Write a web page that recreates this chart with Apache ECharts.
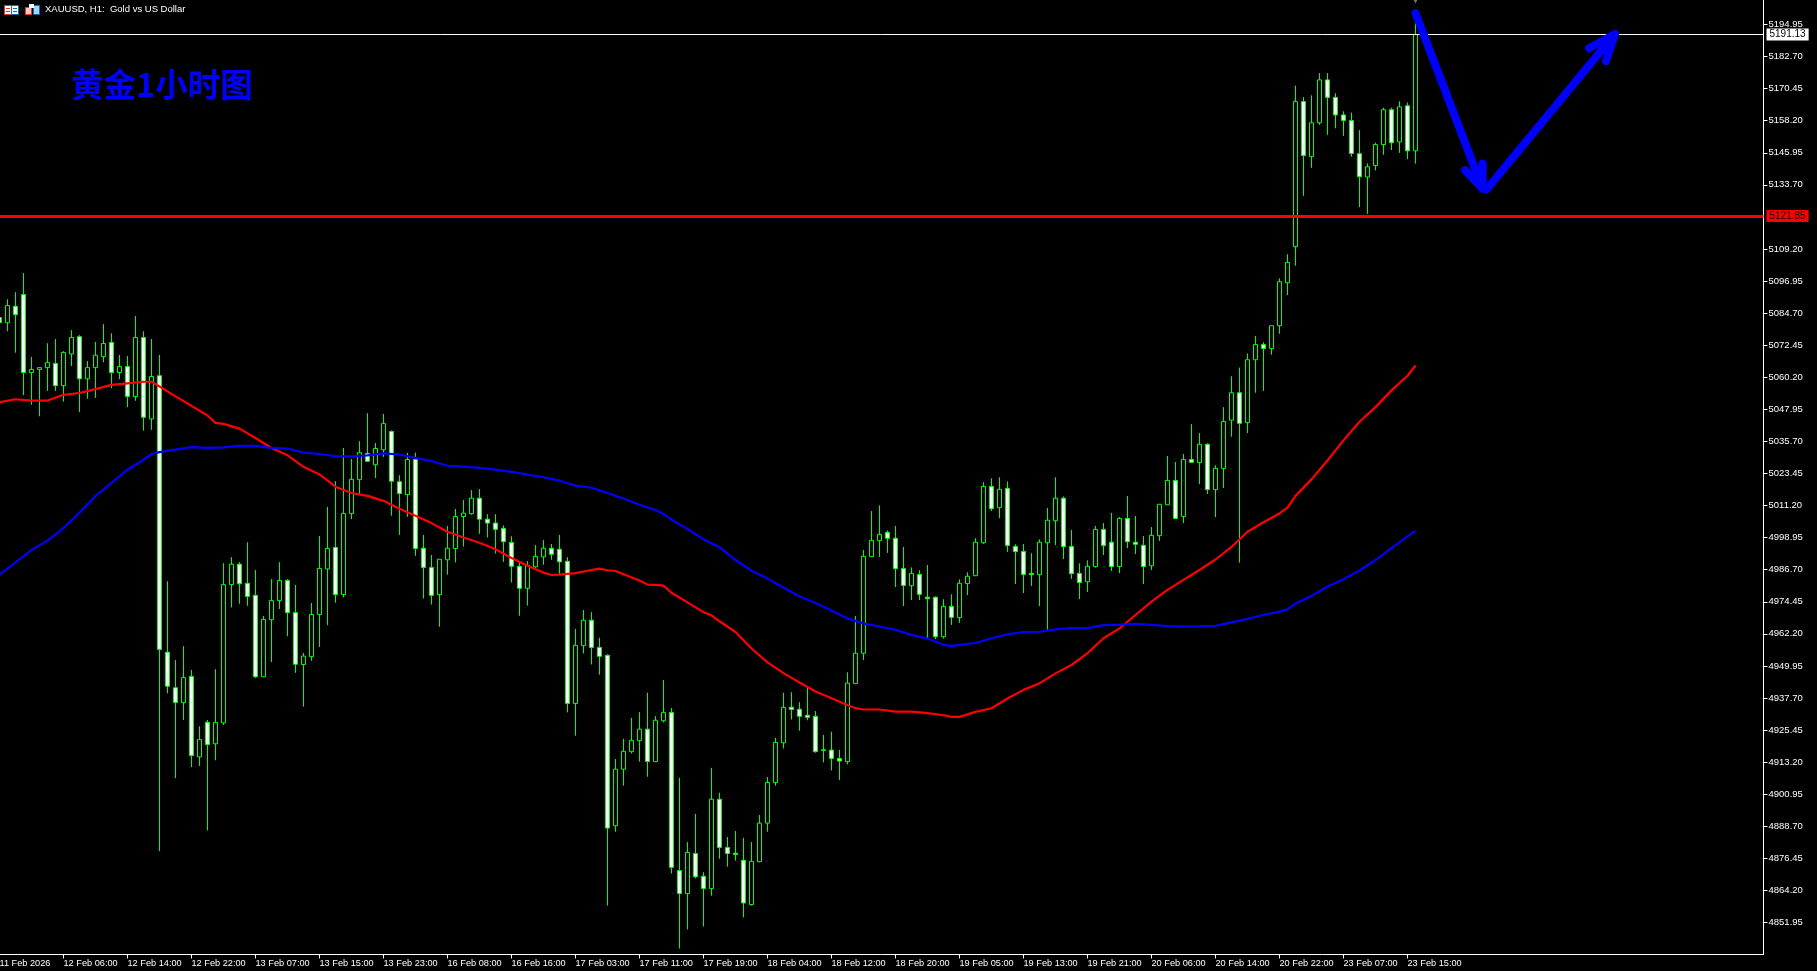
<!DOCTYPE html>
<html>
<head>
<meta charset="utf-8">
<title>XAUUSD H1</title>
<style>
  html, body { margin: 0; padding: 0; background: #000; }
  #chart { width: 1817px; height: 971px; }
</style>
<script src="https://cdn.jsdelivr.net/npm/echarts@6/dist/echarts.min.js"></script>
</head>
<body>
<div id="chart"></div>
<script>
const opens = [
  5083.0,5081.0,5087.3,5091.8,5062.0,5063.2,5063.9,5065.5,5057.0,5069.1,
  5075.7,5059.6,5063.9,5068.1,5073.5,5062.0,5064.3,5052.8,5075.4,5044.3,
  5060.8,4955.2,4941.6,4935.9,4945.9,4915.2,4928.4,4920.2,4928.2,4981.0,
  4988.8,4981.5,4976.9,4945.8,4967.6,4974.9,4982.6,4970.3,4950.5,4953.5,
  4969.6,4987.0,4995.2,4977.2,5008.2,5021.1,5031.1,5026.8,5032.5,5039.5,
  5020.3,5015.4,5028.8,4994.9,4987.5,4977.2,4990.5,4994.8,5007.0,5008.1,
  5014.0,5006.0,5004.5,5002.5,4997.1,4988.0,4979.6,4987.8,4991.6,4994.9,
  4994.5,4989.9,4935.6,4957.7,4967.4,4957.0,4954.0,4888.9,4910.5,4917.2,
  4921.4,4925.8,4913.4,4929.0,4932.2,4871.8,4863.0,4878.3,4869.6,4864.9,
  4899.0,4880.6,4878.4,4875.7,4858.8,4875.2,4889.9,4905.4,4920.6,4934.2,
  4933.4,4931.1,4930.7,4917.9,4917.8,4914.6,4913.4,4943.2,4954.8,4991.7,
  4997.8,5001.0,4998.7,4987.2,4980.6,4984.9,4976.2,4976.2,4961.1,4972.7,
  4968.4,4981.4,4984.4,4997.0,5018.5,5010.4,5017.8,4995.6,4993.7,4985.3,
  4984.8,4997.0,5005.4,5014.0,4995.6,4985.3,4982.1,4987.9,5002.1,4997.2,
  4987.9,5006.3,4997.2,4996.0,4988.2,4999.7,5011.5,5020.8,5007.0,5028.8,
  5027.6,5034.6,5017.3,5025.4,5043.8,5054.3,5042.9,5066.9,5072.7,5071.2,
  5079.9,5096.3,5110.1,5165.5,5144.5,5157.4,5173.8,5167.1,5160.4,5158.3,
  5145.6,5136.7,5141.1,5149.1,5162.4,5150.1,5163.9,5146.7
]
const closes = [
  5081.1,5087.6,5084.1,5062.0,5063.2,5063.9,5065.8,5057.0,5069.7,5075.4,
  5059.6,5063.9,5068.6,5073.1,5062.0,5064.3,5052.9,5075.4,5044.9,5060.5,
  4956.2,4942.2,4936.0,4945.5,4915.7,4921.8,4919.9,4928.4,4981.0,4988.8,
  4981.3,4976.5,4945.8,4967.7,4974.9,4982.6,4970.3,4950.6,4953.7,4969.6,
  4987.2,4994.8,4977.2,5008.2,5021.2,5031.4,5028.1,5033.0,5042.5,5020.5,
  5015.8,5028.8,4994.8,4987.5,4976.9,4990.7,4994.9,5007.0,5008.3,5014.0,
  5006.0,5004.5,5002.1,4997.4,4988.0,4979.6,4988.4,4991.8,4994.9,4992.6,
  4989.7,4935.6,4957.8,4967.4,4957.0,4953.6,4888.0,4910.5,4917.3,4921.5,
  4925.8,4913.4,4929.2,4932.2,4873.0,4863.0,4878.7,4869.4,4864.9,4899.0,
  4880.6,4878.3,4877.9,4859.4,4875.3,4889.9,4905.4,4920.7,4934.1,4933.3,
  4930.7,4930.3,4917.2,4917.7,4914.6,4913.6,4943.4,4954.8,4991.8,4997.9,
  5000.2,4998.7,4987.1,4980.7,4985.3,4977.3,4975.6,4961.1,4972.7,4968.5,
  4981.5,4984.2,4997.2,5018.5,5010.0,5017.4,4995.9,4993.6,4984.9,4984.8,
  4997.2,5005.6,5014.0,4995.5,4985.2,4981.8,4988.0,5002.1,4995.9,4987.9,
  5006.3,4997.4,4996.4,4987.9,4999.8,5011.7,5020.8,5006.3,5028.8,5027.7,
  5034.6,5017.3,5025.4,5043.3,5054.3,5042.6,5066.9,5072.7,5071.2,5079.9,
  5096.7,5104.1,5165.5,5144.9,5157.4,5173.8,5167.1,5160.4,5158.3,5145.7,
  5136.8,5140.6,5149.1,5162.4,5149.8,5163.5,5146.7,5191.13
]
const highs = [
  5086.0,5090.0,5092.7,5100.0,5068.0,5063.9,5073.2,5074.8,5070.2,5078.2,
  5076.3,5066.4,5073.7,5080.5,5077.0,5068.7,5068.3,5083.6,5077.8,5074.8,
  5068.7,4982.3,4952.2,4957.5,4948.4,4926.9,4929.3,4948.7,4989.2,4991.5,
  4989.6,4997.2,4986.6,4969.0,4983.1,4989.6,4983.1,4980.9,4954.9,4974.0,
  4999.6,5010.7,5020.5,5033.2,5029.0,5035.8,5046.5,5035.1,5046.2,5039.9,
  5022.8,5031.3,5031.4,5000.0,4992.3,4990.7,5003.4,5009.9,5013.3,5017.1,
  5017.5,5007.9,5007.9,5003.6,4999.5,4989.9,4990.0,4996.1,4998.0,4996.5,
  5000.0,4991.5,4964.1,4971.3,4970.5,4960.7,4954.4,4914.4,4922.1,4930.1,
  4932.3,4939.7,4930.8,4944.6,4933.9,4907.2,4882.7,4893.4,4871.2,4911.0,
  4901.5,4884.6,4886.9,4884.3,4882.7,4893.0,4907.5,4922.5,4939.7,4939.9,
  4936.1,4941.5,4932.7,4923.6,4924.8,4917.9,4947.5,4969.0,4994.2,5009.1,
  5011.3,5001.7,5003.4,4995.4,4987.6,4986.5,4988.5,4976.5,4975.4,4977.3,
  4983.0,4985.7,4998.7,5020.1,5021.6,5022.0,5020.4,4996.4,4996.5,4993.0,
  4998.3,5010.3,5022.0,5014.7,5001.9,4989.1,4990.3,5003.4,5004.5,5008.4,
  5006.8,5014.8,5007.2,4999.6,5003.0,5011.7,5030.1,5027.8,5030.9,5042.3,
  5038.9,5035.0,5026.6,5048.8,5060.6,5063.9,5069.3,5076.0,5073.6,5079.9,
  5098.0,5107.2,5171.6,5167.2,5167.9,5176.4,5176.4,5168.7,5161.8,5161.3,
  5154.6,5141.9,5149.8,5163.2,5163.2,5165.6,5165.1,5200.4
]
const lows = [
  5077.9,5077.8,5069.6,5053.4,5049.7,5045.3,5055.0,5055.0,5050.9,5064.5,
  5046.9,5052.0,5052.3,5065.9,5056.0,5059.5,5048.8,5051.2,5039.8,5040.1,
  4879.2,4939.5,4907.1,4929.3,4911.3,4911.7,4887.1,4913.9,4927.4,4972.3,
  4973.7,4972.9,4945.4,4945.7,4951.4,4971.7,4961.3,4947.3,4934.4,4951.9,
  4957.2,4965.5,4974.1,4976.1,5006.0,5015.5,5028.0,5021.7,5029.8,5007.3,
  5000.0,5006.9,4992.0,4975.7,4973.4,4964.9,4984.8,4989.5,4995.5,5007.7,
  5000.4,4999.0,4992.9,4989.7,4981.8,4969.1,4973.0,4987.4,4988.6,4990.5,
  4984.7,4932.2,4923.3,4954.7,4950.5,4946.6,4858.4,4886.6,4904.2,4916.5,
  4913.4,4907.6,4913.2,4928.4,4870.7,4842.0,4849.3,4868.8,4850.4,4862.2,
  4876.3,4873.3,4875.6,4853.9,4858.4,4874.9,4886.6,4904.2,4918.4,4929.5,
  4925.2,4929.2,4916.8,4913.1,4910.0,4906.4,4912.3,4943.0,4952.2,4991.6,
  4991.6,4993.1,4980.1,4972.8,4975.1,4975.1,4960.6,4960.2,4960.4,4965.6,
  4966.4,4977.0,4984.3,4996.6,5009.1,5006.4,4993.5,4981.2,4977.8,4980.5,
  4972.8,4963.7,4996.1,4990.8,4983.2,4975.5,4978.2,4987.5,4992.3,4986.2,
  4985.4,4995.0,4992.7,4981.2,4986.6,4997.7,5011.4,5006.2,5004.5,5027.6,
  5019.4,5015.6,5006.8,5017.9,5037.5,4989.4,5038.9,5054.3,5055.0,5068.8,
  5076.8,5091.6,5102.8,5129.5,5140.2,5156.6,5152.8,5155.3,5152.4,5144.5,
  5125.2,5122.6,5139.2,5145.2,5147.0,5145.9,5143.5,5141.8
]

// moving averages as [bar, price]
const redMa = [
  [0,5050.7],[2,5051.8],[4,5051.3],[6,5051.3],[8,5053.5],[10,5054.2],[12,5055.7],[14,5057.3],[16,5057.9],[18,5058.5],
  [19,5058.5],[20,5056.7],[22,5052.9],[24,5049.3],[26,5045.6],[27,5042.8],[28,5042.4],[30,5040.6],[32,5037.0],[34,5033.2],
  [36,5030.4],[38,5026.0],[40,5023.1],[42,5018.4],[44,5016.0],[46,5014.9],[48,5013.0],[50,5010.0],[52,5007.3],[54,5004.5],
  [56,5001.2],[58,4999.0],[60,4997.0],[62,4994.5],[64,4991.2],[66,4988.2],[68,4985.6],[69,4984.7],[70,4984.8],[72,4985.4],
  [74,4986.6],[75,4987.1],[76,4986.5],[77,4986.2],[78,4985.0],[80,4982.6],[81,4981.0],[82,4980.9],[83,4980.6],[84,4977.9],
  [86,4974.2],[88,4970.5],[89,4969.3],[90,4967.0],[92,4962.9],[94,4956.6],[96,4951.3],[98,4947.2],[100,4943.6],[102,4940.2],
  [104,4937.6],[106,4935.0],[107,4933.8],[108,4933.3],[110,4933.3],[112,4932.5],[114,4932.5],[116,4931.9],[118,4931.1],[119,4930.5],
  [120,4930.5],[122,4932.4],[124,4933.8],[126,4937.5],[128,4940.8],[130,4943.3],[132,4947.1],[134,4950.3],[136,4954.8],[138,4960.5],
  [140,4964.3],[142,4969.4],[144,4974.5],[146,4979.0],[148,4982.8],[150,4986.6],[152,4990.6],[154,4995.4],[156,5001.2],[158,5004.8],
  [160,5008.2],[161,5010.4],[162,5014.9],[164,5021.2],[166,5028.4],[168,5036.1],[170,5043.2],[172,5048.8],[174,5055.2],[176,5060.8],
  [177,5064.7]
]
const blueMa = [
  [0,4984.8],[2,4989.5],[4,4994.2],[6,4997.8],[8,5002.6],[10,5008.5],[12,5014.8],[14,5019.9],[16,5024.9],[18,5028.7],
  [19,5030.9],[20,5031.6],[22,5032.6],[24,5033.5],[26,5033.2],[28,5033.4],[30,5034.0],[32,5034.0],[34,5033.2],[36,5033.0],
  [38,5031.4],[40,5030.9],[42,5030.1],[44,5030.0],[46,5030.4],[48,5031.1],[50,5030.7],[52,5029.4],[54,5028.2],[56,5026.4],
  [58,5026.1],[60,5025.6],[62,5024.9],[64,5024.1],[66,5023.0],[68,5022.0],[70,5020.7],[72,5018.8],[74,5018.0],[76,5016.0],
  [78,5013.9],[80,5011.5],[82,5009.5],[83,5008.0],[84,5005.8],[86,5002.3],[88,4998.3],[90,4995.3],[92,4990.4],[94,4986.3],
  [96,4983.3],[98,4979.9],[100,4976.5],[102,4974.0],[104,4971.1],[106,4968.1],[108,4966.1],[110,4965.0],[112,4963.7],[114,4961.8],
  [116,4960.4],[118,4958.0],[119,4957.6],[120,4958.0],[122,4958.7],[124,4960.5],[126,4962.0],[128,4962.9],[130,4963.0],[132,4963.9],
  [134,4964.4],[136,4964.4],[138,4965.5],[140,4965.7],[142,4966.0],[144,4965.6],[146,4965.2],[148,4965.0],[150,4965.1],[152,4965.3],
  [154,4966.6],[156,4967.9],[158,4969.4],[160,4970.7],[161,4971.6],[162,4973.8],[164,4976.7],[166,4980.3],[168,4983.1],[170,4986.4],
  [172,4990.4],[174,4994.9],[176,4999.4],[177,5001.5]
]

// hand drawn arrows, [bar, price]
const arrowDown = [[177,5199.3],[185.4,5132.2],[185.4,5141.9],[185.4,5132.2],[183.2,5139.3]]
const arrowUp = [[185.9,5132.0],[201.94,5191.3],[198.7,5185.9],[201.94,5191.3],[200.8,5181.0]]
const lastBarMark = [[177,5204.3]]

const priceTicks = [
  5194.95,5182.70,5170.45,5158.20,5145.95,5133.70,5109.20,5096.95,5084.70,5072.45,
  5060.20,5047.95,5035.70,5023.45,5011.20,4998.95,4986.70,4974.45,4962.20,4949.95,
  4937.70,4925.45,4913.20,4900.95,4888.70,4876.45,4864.20,4851.95
]
const timeLabels = [
  '11 Feb 2026','12 Feb 06:00','12 Feb 14:00','12 Feb 22:00','13 Feb 07:00','13 Feb 15:00',
  '13 Feb 23:00','16 Feb 08:00','16 Feb 16:00','17 Feb 03:00','17 Feb 11:00','17 Feb 19:00',
  '18 Feb 04:00','18 Feb 12:00','18 Feb 20:00','19 Feb 05:00','19 Feb 13:00','19 Feb 21:00',
  '20 Feb 06:00','20 Feb 14:00','20 Feb 22:00','23 Feb 07:00','23 Feb 15:00'
]
const askPrice = 5191.13
const supportPrice = 5121.85

const LABEL_EVERY = 8
const SLOTS = 221
const FONT = '"Liberation Sans", Arial, sans-serif'

// one label every 8 bars, empty slots run on to the right of the last bar
const categories = []
for (let i = 0; i < SLOTS; i++) {
  categories.push(i % LABEL_EVERY === 0 && timeLabels[i / LABEL_EVERY] ? timeLabels[i / LABEL_EVERY] : '')
}
const isLabelled = i => categories[i] !== ''

function priceLine (value, color, width, textColor) {
  return {
    yAxis: value,
    lineStyle: { color: color, width: width, type: 'solid' },
    label: {
      show: true,
      position: 'end',
      distance: 3,
      formatter: value.toFixed(2),
      color: textColor,
      backgroundColor: color,
      fontFamily: FONT,
      fontSize: 10,
      padding: [1, 3, 1, 3]
    }
  }
}

function maSeries (name, data, color) {
  return {
    name: name,
    type: 'line',
    xAxisIndex: 1,
    data: data,
    symbol: 'none',
    z: 5,
    lineStyle: { color: color, width: 2.2 }
  }
}

function arrowSeries (name, data) {
  return {
    name: name,
    type: 'line',
    xAxisIndex: 1,
    data: data,
    symbol: 'none',
    z: 6,
    lineStyle: { color: '#0000ff', width: 8, cap: 'round', join: 'round' }
  }
}

const option = {
  backgroundColor: '#000',
  animation: false,
  title: [
    {
      text: 'XAUUSD, H1:  Gold vs US Dollar',
      left: 45,
      top: 4,
      padding: 0,
      textStyle: { color: '#fff', fontFamily: FONT, fontSize: 9.5, fontWeight: 'normal' }
    },
    {
      text: '黄金1小时图',
      left: 71,
      top: 68,
      padding: 0,
      textStyle: { color: '#0000ff', fontFamily: '"Noto Sans CJK SC"', fontSize: 32.5, fontWeight: 'bold' }
    }
  ],
  graphic: [
    // the two small toolbar icons in the corner
    { type: 'rect', shape: { x: 4.5, y: 5.5, width: 7, height: 9 }, style: { fill: '#fff', stroke: '#e0392b', lineWidth: 1 } },
    { type: 'rect', shape: { x: 11.5, y: 5.5, width: 7, height: 9 }, style: { fill: '#fff', stroke: '#0a6cb8', lineWidth: 1 } },
    { type: 'rect', shape: { x: 6, y: 8, width: 4, height: 1 }, style: { fill: '#e0392b' } },
    { type: 'rect', shape: { x: 6, y: 11, width: 4, height: 1 }, style: { fill: '#e0392b' } },
    { type: 'rect', shape: { x: 13, y: 8, width: 4, height: 1 }, style: { fill: '#0a6cb8' } },
    { type: 'rect', shape: { x: 13, y: 11, width: 4, height: 1 }, style: { fill: '#0a6cb8' } },
    { type: 'rect', shape: { x: 25.5, y: 7.5, width: 6, height: 7 }, style: { fill: '#f4c7c0', stroke: '#e0392b', lineWidth: 1 } },
    { type: 'rect', shape: { x: 33.5, y: 5.5, width: 6, height: 9 }, style: { fill: '#a9d2ee', stroke: '#0a6cb8', lineWidth: 1 } },
    { type: 'rect', shape: { x: 29, y: 4, width: 5, height: 4 }, style: { fill: '#fff' } }
  ],
  grid: {
    left: -4.5,
    top: 0,
    width: 1768,
    height: 954.5,
    outerBoundsMode: 'none'
  },
  xAxis: [
    {
      type: 'category',
      data: categories,
      boundaryGap: true,
      axisLine: { show: true, lineStyle: { color: '#fff', width: 1 } },
      axisTick: {
        show: true,
        alignWithLabel: true,
        interval: isLabelled,
        length: 4,
        lineStyle: { color: '#fff', width: 1 }
      },
      axisLabel: {
        interval: isLabelled,
        align: 'left',
        margin: 4,
        color: '#fff',
        fontFamily: FONT,
        fontSize: 9.2
      },
      splitLine: { show: false }
    },
    {
      type: 'value',
      min: -0.5,
      max: SLOTS - 0.5,
      show: false,
      splitLine: { show: false }
    }
  ],
  yAxis: {
    type: 'value',
    position: 'right',
    min: 4839.72,
    max: 5204.31,
    axisLine: { show: true, onZero: false, lineStyle: { color: '#fff', width: 1 } },
    axisTick: { show: true, length: 4, customValues: priceTicks, lineStyle: { color: '#fff', width: 1 } },
    axisLabel: {
      customValues: priceTicks,
      margin: 5,
      color: '#fff',
      fontFamily: FONT,
      fontSize: 9.5,
      formatter: v => v.toFixed(2)
    },
    splitLine: { show: false }
  },
  series: [
    {
      name: 'XAUUSD',
      type: 'candlestick',
      barWidth: 5,
      z: 3,
      data: opens.map((o, i) => [o, closes[i], lows[i], highs[i]]),
      itemStyle: {
        color: '#000',
        color0: '#fff',
        borderColor: '#00ff00',
        borderColor0: '#00ff00',
        borderWidth: 1
      },
      markLine: {
        silent: true,
        symbol: 'none',
        animation: false,
        data: [
          priceLine(askPrice, '#ffffff', 1, '#000'),
          priceLine(supportPrice, '#ff0000', 3, '#000')
        ]
      }
    },
    maSeries('MA red', redMa, '#ff0000'),
    maSeries('MA blue', blueMa, '#0000ff'),
    arrowSeries('arrow down', arrowDown),
    arrowSeries('arrow up', arrowUp),
    {
      name: 'last bar',
      type: 'scatter',
      xAxisIndex: 1,
      data: lastBarMark,
      symbol: 'triangle',
      symbolRotate: 180,
      symbolSize: 7,
      clip: false,
      z: 6,
      itemStyle: { color: '#8c939b' }
    }
  ]
}

const myEcharts = echarts.init(document.getElementById('chart'))
myEcharts.setOption(option)
</script>
</body>
</html>
